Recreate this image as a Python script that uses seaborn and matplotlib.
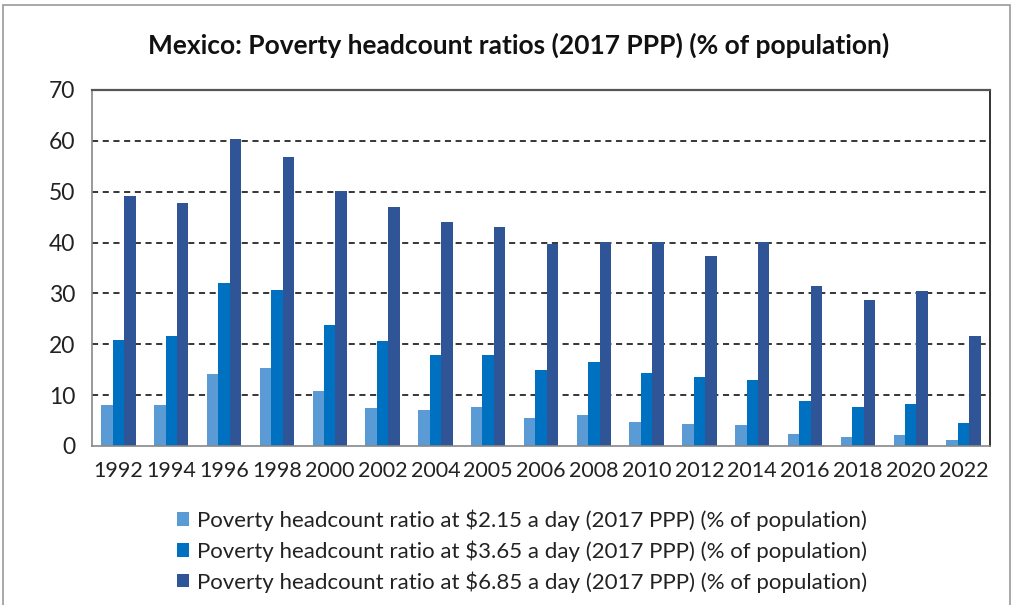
import matplotlib
matplotlib.use("Agg")
import matplotlib.pyplot as plt
import seaborn as sns
import pandas as pd
import numpy as np
from matplotlib.patches import Rectangle

years = ["1992", "1994", "1996", "1998", "2000", "2002", "2004", "2005", "2006",
         "2008", "2010", "2012", "2014", "2016", "2018", "2020", "2022"]
pov_215 = [8.0, 8.0, 14.1, 15.3, 10.8, 7.4, 7.1, 7.7, 5.5,
           6.0, 4.7, 4.3, 4.1, 2.4, 1.8, 2.1, 1.2]
pov_365 = [20.9, 21.7, 32.1, 30.7, 23.7, 20.6, 17.8, 17.8, 15.0,
           16.6, 14.4, 13.6, 13.0, 8.8, 7.7, 8.3, 4.6]
pov_685 = [49.2, 47.8, 60.4, 56.8, 50.1, 47.0, 44.1, 43.0, 39.7,
           40.1, 40.1, 37.4, 40.1, 31.5, 28.8, 30.4, 21.7]
series_names = [
    "Poverty headcount ratio at $2.15 a day (2017 PPP) (% of population)",
    "Poverty headcount ratio at $3.65 a day (2017 PPP) (% of population)",
    "Poverty headcount ratio at $6.85 a day (2017 PPP) (% of population)",
]
colors = ["#5b9bd5", "#0070c0", "#2f5597"]
title = "Mexico: Poverty headcount ratios (2017 PPP) (% of population)"

df = pd.DataFrame({
    "year": years * 3,
    "value": pov_215 + pov_365 + pov_685,
    "series": [series_names[0]] * len(years) + [series_names[1]] * len(years) + [series_names[2]] * len(years),
})

sns.set_style("white")
plt.rcParams["font.family"] = ["Lato", "DejaVu Sans"]
plt.rcParams["text.parse_math"] = False

fig = plt.figure(figsize=(10.16, 6.05), dpi=100)
ax = fig.add_axes([92 / 1016, 1 - 446 / 605, (990 - 92) / 1016, (446 - 90) / 605])

sns.barplot(data=df, x="year", y="value", hue="series", palette=colors,
            width=0.65, saturation=1, ax=ax, legend=True, linewidth=0)

ax.set_ylim(0, 70)
ax.set_xlim(-0.5, len(years) - 0.5)
ax.set_yticks(range(0, 71, 10))
ax.set_xlabel("")
ax.set_ylabel("")
ax.tick_params(axis="y", labelsize=16.5, length=7, color="#888888", direction="out", pad=5, labelcolor="#222222")
ax.tick_params(axis="x", which="major", labelsize=15.5, length=0, pad=11, labelcolor="#222222")
ax.set_xticks(np.arange(-0.5, len(years), 1.0), minor=True)
ax.tick_params(axis="x", which="minor", length=7, color="#888888", direction="out")

for yv in range(10, 70, 10):
    ax.axhline(yv, color="black", linestyle=(0, (4, 3)), linewidth=1.1, zorder=0)

ax.spines["top"].set_color("#555555")
ax.spines["top"].set_linewidth(1.6)
ax.spines["right"].set_color("#111111")
ax.spines["right"].set_linewidth(1.2)
ax.spines["left"].set_color("#888888")
ax.spines["bottom"].set_color("#888888")
for s in ["left", "bottom"]:
    ax.spines[s].set_linewidth(1.2)

handles, labels = ax.get_legend_handles_labels()
ax.get_legend().remove()
fig.legend(handles, labels, loc="center", bbox_to_anchor=(522 / 1016, 1 - 551 / 605),
           ncol=1, frameon=False, fontsize=16, handlelength=0.55, handleheight=0.55,
           handletextpad=0.35, labelspacing=0.42, labelcolor="#222222")

fig.text(519 / 1016, 1 - 45 / 605, title, ha="center", va="center",
         fontsize=19, fontweight="bold", color="#111111")

fig.patches.append(Rectangle((3 / 1016, -0.05), 1007 / 1016, 1.05 - 5 / 605,
                             transform=fig.transFigure, fill=False,
                             edgecolor="#999999", linewidth=1.2))

fig.savefig("out.png", dpi=100)
